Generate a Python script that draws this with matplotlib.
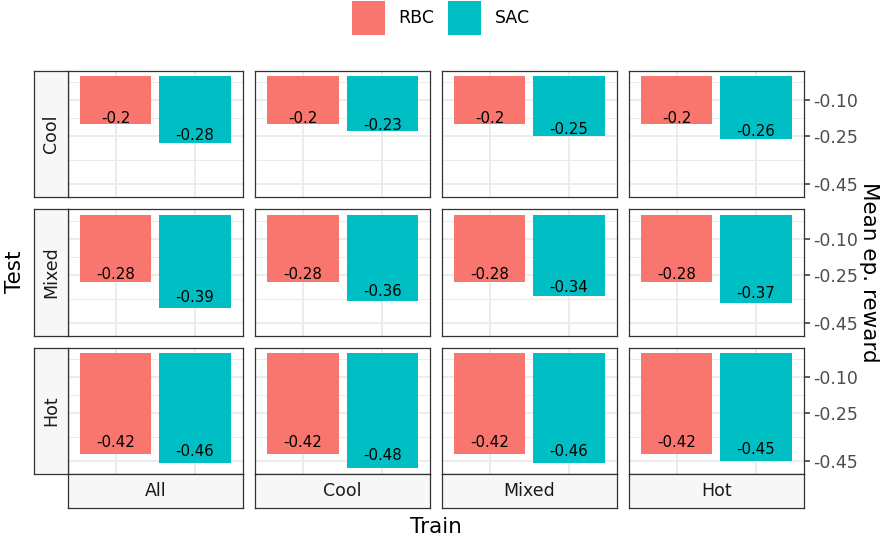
import matplotlib
matplotlib.use("Agg")
import matplotlib.pyplot as plt
from matplotlib.patches import Patch

# data
train_levels = ["All", "Cool", "Mixed", "Hot"]
test_levels = ["Cool", "Mixed", "Hot"]
agents = ["RBC", "SAC"]
colors = ["#F8766D", "#00BFC4"]

rbc = [[-0.20, -0.20, -0.20, -0.20],
       [-0.28, -0.28, -0.28, -0.28],
       [-0.42, -0.42, -0.42, -0.42]]
sac = [[-0.28, -0.23, -0.25, -0.26],
       [-0.39, -0.36, -0.34, -0.37],
       [-0.46, -0.48, -0.46, -0.45]]

y_ticks = [-0.45, -0.25, -0.10]
y_minor = [-0.35, -0.175, -0.025]

W, H = 885, 543
fig = plt.figure(figsize=(W / 100, H / 100), dpi=100)


def fig_rect(x, y, w, h):
    return [x / W, 1 - (y + h) / H, w / W, h / H]


col_x = [68, 255.5, 442, 629]
row_y = [70.5, 209, 347.5]
pw, ph = 174.5, 126.5
grid_col = "#EBEBEB"
border_col = "#333333"
small = 12.5

for r, test in enumerate(test_levels):
    for c, train in enumerate(train_levels):
        ax = fig.add_axes(fig_rect(col_x[c], row_y[r], pw, ph))
        vals = [rbc[r][c], sac[r][c]]
        for y in y_ticks:
            ax.axhline(y, color=grid_col, lw=1.3, zorder=0)
        for y in y_minor:
            ax.axhline(y, color=grid_col, lw=0.7, zorder=0)
        for x in [1, 2]:
            ax.axvline(x, color=grid_col, lw=1.3, zorder=0)
        ax.bar([1, 2], vals, width=0.9, color=colors, zorder=2)
        for x, v in zip([1, 2], vals):
            ax.text(x, v * 0.89, f"{v:g}", ha="center", va="center",
                    fontsize=10.8, color="black", zorder=3)
        ax.set_xlim(0.4, 2.6)
        ax.set_ylim(-0.504, 0.024)
        ax.set_xticks([])
        ax.set_yticks(y_ticks)
        for s in ax.spines.values():
            s.set_color(border_col)
            s.set_linewidth(0.9)
        if c == 3:
            ax.yaxis.tick_right()
            ax.set_yticklabels([f"{t:.2f}" for t in y_ticks])
            ax.tick_params(axis="y", length=4, width=1.1, color=border_col,
                           labelcolor="#4D4D4D", labelsize=small, pad=3)
        else:
            ax.tick_params(axis="y", length=0, labelleft=False)

        if c == 0:
            sx = fig.add_axes(fig_rect(33.5, row_y[r], 34.5, ph))
            sx.set_facecolor("#F7F7F7")
            sx.set_xticks([])
            sx.set_yticks([])
            for s in sx.spines.values():
                s.set_color(border_col)
                s.set_linewidth(0.9)
            sx.text(0.5, 0.5, test, rotation=90, ha="center", va="center",
                    fontsize=small, color="#1A1A1A", transform=sx.transAxes)
        if r == 2:
            bx = fig.add_axes(fig_rect(col_x[c], 474, pw, 34))
            bx.set_facecolor("#F7F7F7")
            bx.set_xticks([])
            bx.set_yticks([])
            for s in bx.spines.values():
                s.set_color(border_col)
                s.set_linewidth(0.9)
            bx.text(0.5, 0.5, train, ha="center", va="center",
                    fontsize=small, color="#1A1A1A", transform=bx.transAxes)

fig.text(436 / W, 1 - 527 / H, "Train", ha="center", va="center", fontsize=15.5)
fig.text(15 / W, 1 - 272 / H, "Test", ha="center", va="center", fontsize=15.5,
         rotation=90)
fig.text(869 / W, 1 - 272 / H, "Mean ep. reward", ha="center", va="center",
         fontsize=15.5, rotation=270)

handles = [Patch(facecolor=col, edgecolor="none", label=a)
           for a, col in zip(agents, colors)]
fig.legend(handles=handles, loc="upper center", bbox_to_anchor=(441 / W, 1.02),
           ncol=2, frameon=False, fontsize=small, handlelength=1.9,
           handleheight=2.6, handletextpad=0.8, columnspacing=0.8,
           borderpad=0.2)

fig.savefig("out.png", dpi=100)
